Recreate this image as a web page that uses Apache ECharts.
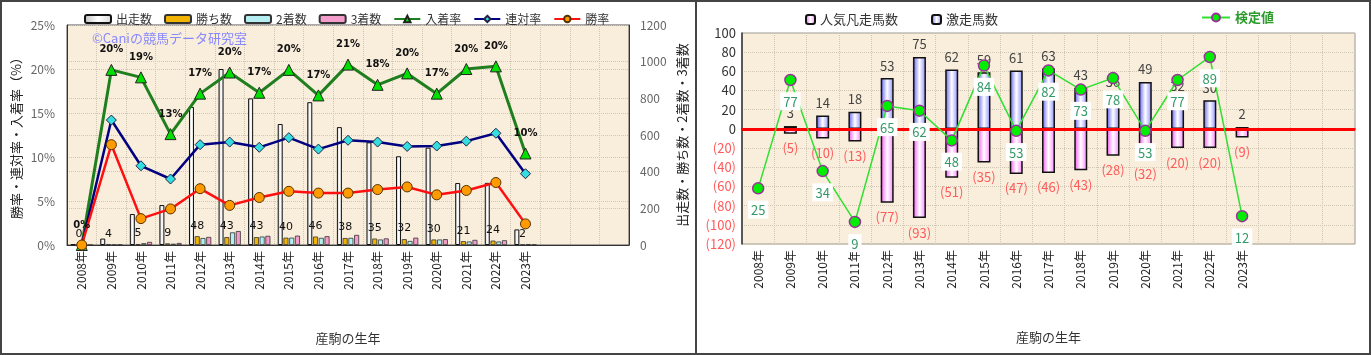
<!DOCTYPE html>
<html><head><meta charset="utf-8">
<script src="https://cdn.jsdelivr.net/npm/echarts@6/dist/echarts.min.js"></script>
<style>html,body{margin:0;padding:0;background:#fff}#c{width:1371px;height:355px}</style>
</head><body><div id="c"></div>
<script>
// ---- data ----
const years = ['2008年','2009年','2010年','2011年','2012年','2013年','2014年','2015年','2016年','2017年','2018年','2019年','2020年','2021年','2022年','2023年','','',''];
// left chart
const starts  = [3, 35, 169, 218, 753, 960, 800, 660, 779, 643, 560, 484, 531, 338, 339, 85, null, null, null];
const wins    = [0, 4, 5, 9, 48, 43, 43, 40, 46, 38, 35, 32, 30, 21, 24, 2, null, null, null];
const seconds = [0, 1, 10, 7, 38, 69, 46, 40, 39, 39, 30, 22, 30, 19, 19, 5, null, null, null];
const thirds  = [0, 2, 17, 11, 44, 76, 50, 51, 48, 55, 36, 40, 32, 28, 26, 2, null, null, null];
const placeRate  = [0, 19.9, 19.05, 12.6, 17.2, 19.6, 17.3, 19.9, 17.0, 20.5, 18.2, 19.5, 17.2, 20.0, 20.3, 10.4, null, null, null];
const rentaiRate = [0, 14.2, 9.0, 7.5, 11.4, 11.7, 11.1, 12.2, 10.9, 11.9, 11.7, 11.2, 11.25, 11.8, 12.7, 8.1, null, null, null];
const winRate    = [0, 11.4, 3.0, 4.1, 6.4, 4.5, 5.4, 6.1, 5.9, 5.9, 6.3, 6.6, 5.7, 6.2, 7.1, 2.4, null, null, null];
const leftTicksPct = {min: 0, max: 25, step: 5};
const rightTicksCnt = {min: 0, max: 1200, step: 200};
// right chart
const gekisou = [null, 3, 14, 18, 53, 75, 62, 59, 61, 63, 43, 36, 49, 32, 30, 2, null, null, null];
const bonsou  = [null, 5, 10, 13, 77, 93, 51, 35, 47, 46, 43, 28, 32, 20, 20, 9, null, null, null];
const kenteiPos   = [-62, 51, -44, -97, 24, 19, -12, 66, -2, 61, 41, 53, -2, 51, 75, -91, null, null, null];
const kenteiLabel = [25, 77, 34, 9, 65, 62, 48, 84, 53, 82, 73, 78, 53, 77, 89, 12, null, null, null];
const rTicks = {min: -120, max: 100, step: 20};

const FONT = '"Noto Sans CJK JP", "Noto Sans", sans-serif';
const G = echarts.graphic;
const beige = '#f9eedb';
const gridLine = {show: true, lineStyle: {color: '#cfc6b4', type: 'dotted', width: 1}};

const chart = echarts.init(document.getElementById('c'));
const option = {
  animation: false,
  textStyle: {fontFamily: FONT},
  grid: [
    {left: 67, right: 742, top: 25, bottom: 110, show: true, backgroundColor: beige, borderColor: '#555', borderWidth: 1},
    {left: 742, right: 16, top: 33, bottom: 111, show: true, backgroundColor: beige, borderColor: '#999', borderWidth: 1}
  ],
  legend: [
    {left: 79, top: 8, itemWidth: 26, itemHeight: 8, itemGap: 12,
     textStyle: {fontSize: 12, color: '#333', fontFamily: FONT},
     data: ['出走数','勝ち数','2着数','3着数','入着率','連対率','勝率']},
    {left: 800, top: 8, itemWidth: 9, itemHeight: 9, itemGap: 33,
     textStyle: {fontSize: 13, color: '#333', fontFamily: FONT},
     data: ['人気凡走馬数','激走馬数']},
    {left: 1196, top: 6, itemWidth: 28, itemHeight: 10,
     textStyle: {fontSize: 13, color: '#2a9a2a', fontWeight: 'bold', fontFamily: FONT},
     data: ['検定値']}
  ],
  xAxis: [
    {type: 'category', gridIndex: 0, data: years, boundaryGap: true,
     axisLine: {lineStyle: {color: '#333'}}, axisTick: {show: false},
     axisLabel: {rotate: 90, fontSize: 12, color: '#222', margin: 6, interval: 0},
     splitLine: gridLine,
     name: '産駒の生年', nameLocation: 'middle', nameGap: 87, nameTextStyle: {fontSize: 13, color: '#333'}},
    {type: 'category', gridIndex: 1, data: years, boundaryGap: true,
     axisLine: {lineStyle: {color: '#333', width: 1.5}}, axisTick: {show: false},
     axisLabel: {rotate: 90, fontSize: 12, color: '#222', margin: 6, interval: 0},
     splitLine: gridLine,
     name: '産駒の生年', nameLocation: 'middle', nameGap: 87, nameTextStyle: {fontSize: 13, color: '#333'}}
  ],
  yAxis: [
    {type: 'value', gridIndex: 0, min: leftTicksPct.min, max: leftTicksPct.max, interval: leftTicksPct.step,
     axisLine: {show: true, lineStyle: {color: '#333'}}, axisTick: {show: false},
     axisLabel: {formatter: '{value}%', fontSize: 12, color: '#666', margin: 12},
     splitLine: gridLine,
     name: '勝率・連対率・入着率（%）', nameLocation: 'middle', nameGap: 44, nameRotate: 90,
     nameTextStyle: {fontSize: 13, color: '#222'}},
    {type: 'value', gridIndex: 0, position: 'right', min: rightTicksCnt.min, max: rightTicksCnt.max, interval: rightTicksCnt.step,
     axisLine: {show: true, lineStyle: {color: '#333'}}, axisTick: {show: false},
     axisLabel: {fontSize: 12, color: '#666', margin: 11, formatter: v => String(v)},
     splitLine: gridLine,
     name: '出走数・勝ち数・2着数・3着数', nameLocation: 'middle', nameGap: 47, nameRotate: 90,
     nameTextStyle: {fontSize: 13, color: '#222'}},
    {type: 'value', gridIndex: 1, min: rTicks.min, max: rTicks.max, interval: rTicks.step,
     axisLine: {show: true, lineStyle: {color: '#333', width: 1.5}}, axisTick: {show: false},
     axisLabel: {margin: 6, formatter: v => v < 0 ? '{n|(' + (-v) + ')}' : '{p|' + v + '}',
       rich: {n: {color: '#ff5a5a', fontSize: 13}, p: {color: '#333', fontSize: 13}}},
     splitLine: gridLine}
  ],
  series: [
    {name: '出走数', type: 'bar', xAxisIndex: 0, yAxisIndex: 1, data: starts, barWidth: 5, barGap: '15%',
     itemStyle: {color: new G.LinearGradient(0,0,1,0,[{offset:0,color:'#bdbdbd'},{offset:0.5,color:'#ffffff'},{offset:1,color:'#d8d8d8'}]), borderColor: '#111', borderWidth: 1}},
    {name: '勝ち数', type: 'bar', xAxisIndex: 0, yAxisIndex: 1, data: wins, barWidth: 5,
     itemStyle: {color: '#f2b400', borderColor: '#333', borderWidth: 0.8},
     label: {show: true, position: 'top', distance: 5, fontSize: 11, color: '#111', fontFamily: 'DejaVu Sans'}},
    {name: '2着数', type: 'bar', xAxisIndex: 0, yAxisIndex: 1, data: seconds, barWidth: 5,
     itemStyle: {color: '#b4eef0', borderColor: '#333', borderWidth: 0.8}},
    {name: '3着数', type: 'bar', xAxisIndex: 0, yAxisIndex: 1, data: thirds, barWidth: 5,
     itemStyle: {color: '#f49ccc', borderColor: '#333', borderWidth: 0.8}},
    {name: '入着率', type: 'line', xAxisIndex: 0, yAxisIndex: 0, data: placeRate, symbol: 'triangle', symbolSize: 11,
     lineStyle: {color: '#1f7f1f', width: 3}, itemStyle: {color: '#00e000', borderColor: '#222', borderWidth: 1},
     label: {show: true, position: 'top', distance: 9, fontSize: 10, fontWeight: 'bold', color: '#111', fontFamily: 'DejaVu Sans',
       formatter: p => Math.round(p.value) + '%'}},
    {name: '連対率', type: 'line', xAxisIndex: 0, yAxisIndex: 0, data: rentaiRate, symbol: 'diamond', symbolSize: 10,
     lineStyle: {color: '#000080', width: 2.5}, itemStyle: {color: '#33dde0', borderColor: '#224', borderWidth: 1}},
    {name: '勝率', type: 'line', xAxisIndex: 0, yAxisIndex: 0, data: winRate, symbol: 'circle', symbolSize: 10,
     lineStyle: {color: '#ff1010', width: 2.5}, itemStyle: {color: '#ff9a00', borderColor: '#553300', borderWidth: 1}},

    {name: '激走馬数', type: 'bar', xAxisIndex: 1, yAxisIndex: 2, data: gekisou, barWidth: 13, barGap: '-100%',
     itemStyle: {color: new G.LinearGradient(0,0,1,0,[{offset:0,color:'#5c5cf5'},{offset:0.5,color:'#ffffff'},{offset:1,color:'#8a8aff'}]), borderColor: '#111', borderWidth: 1.5},
     label: {show: true, position: 'top', distance: 6, fontSize: 13, color: '#444'}},
    {name: '人気凡走馬数', type: 'bar', xAxisIndex: 1, yAxisIndex: 2, data: bonsou.map(v => v == null ? null : -v), barWidth: 13,
     itemStyle: {color: new G.LinearGradient(0,0,1,0,[{offset:0,color:'#f050f0'},{offset:0.5,color:'#ffffff'},{offset:1,color:'#ff80ff'}]), borderColor: '#111', borderWidth: 1.5},
     label: {show: true, position: 'bottom', distance: 8, fontSize: 13, color: '#ff5a5a', formatter: p => '(' + (-p.value) + ')'}},
    {name: '__zero', type: 'line', xAxisIndex: 1, yAxisIndex: 2, data: [], z: 3,
     markLine: {silent: true, symbol: ['none','none'], label: {show: false}, lineStyle: {color: '#ff0000', width: 3, type: 'solid'}, data: [{yAxis: 0}]}},
    {name: '検定値', type: 'line', xAxisIndex: 1, yAxisIndex: 2, data: kenteiPos, z: 5, symbol: 'circle', symbolSize: 11,
     lineStyle: {color: '#30e030', width: 1.5}, itemStyle: {color: '#00ee00', borderColor: '#993399', borderWidth: 1.5},
     label: {show: true, position: 'bottom', distance: 6, fontSize: 13, color: '#339966', backgroundColor: '#ffffff', padding: [3,3,2,3],
       formatter: p => kenteiLabel[p.dataIndex]}}
  ],
  graphic: [
    {type: 'text', left: 92, top: 32, z: 10, style: {text: '©Caniの競馬データ研究室', fill: '#8888ff', font: '13px ' + FONT}},
    {type: 'rect', shape: {x: 1, y: 1, width: 1369, height: 353}, style: {fill: 'none', stroke: '#444', lineWidth: 2}, z: 20},
    {type: 'line', shape: {x1: 696, y1: 0, x2: 696, y2: 355}, style: {stroke: '#444', lineWidth: 2}, z: 20}
  ]
};
chart.setOption(option);
</script></body></html>
